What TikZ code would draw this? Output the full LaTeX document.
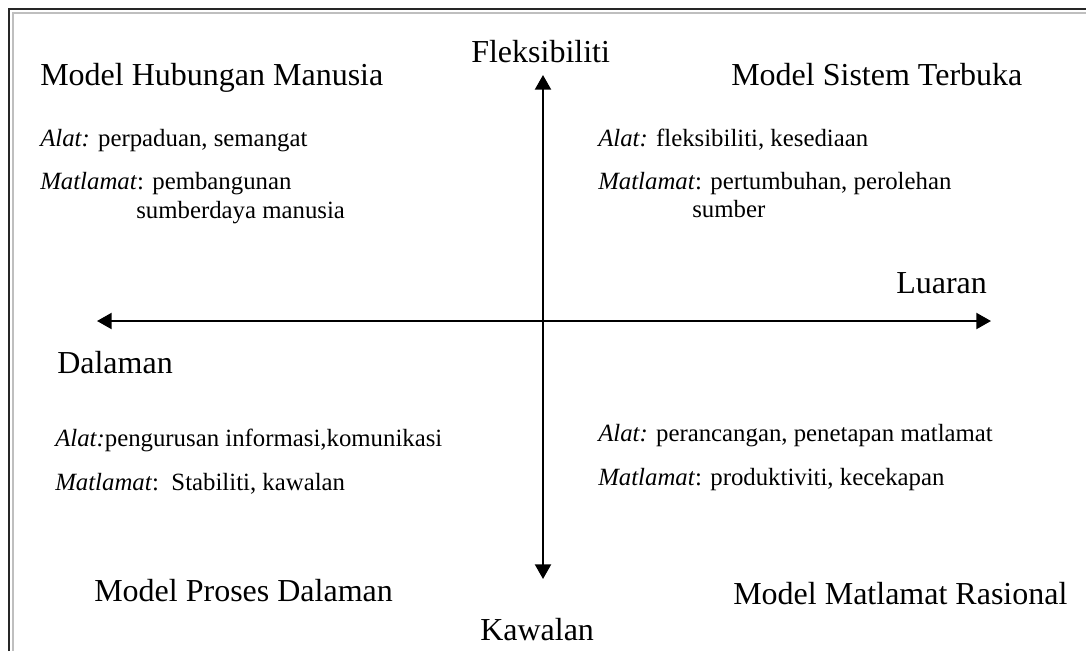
\documentclass[tikz,border=0pt]{standalone}
\usepackage{fontspec}
\setmainfont{Liberation Serif}
\usetikzlibrary{arrows.meta}
\begin{document}
\begin{tikzpicture}[x=0.75pt,y=-0.75pt,
  big/.style={anchor=base west,inner sep=0pt,font=\fontsize{24}{28}\selectfont},
  small/.style={anchor=base west,inner sep=0pt,font=\fontsize{18.6}{22}\selectfont},
  axis/.style={line width=1.6pt,-{Triangle[length=11pt,width=12pt]}}]
\useasboundingbox (0,0) rectangle (1086,651);
% frame, drawn on the top and left only
\draw[black!85,line width=1.5pt] (8.5,651) -- (8.5,8.5) -- (1086,8.5);
\draw[black!25,line width=1.5pt] (13,651) -- (13,13) -- (1086,13);
% axes
\coordinate (c) at (543,321);
\coordinate (top) at (543,75);
\coordinate (bot) at (543,579);
\coordinate (lft) at (97,321);
\coordinate (rgt) at (991,321);
\draw[axis] (c) -- (top);
\draw[axis] (c) -- (bot);
\draw[axis] (c) -- (lft);
\draw[axis] (c) -- (rgt);
% axis labels
\node[big] (fleks) at (471,62) {Fleksibiliti};
\node[big] (luaran) at (896,293) {Luaran};
\node[big] (dalaman) at (57,373) {Dalaman};
\node[big] (kawalan) at (480,640) {Kawalan};
% quadrant titles
\node[big] (mhm) at (40,85) {Model Hubungan Manusia};
\node[big] (mst) at (731,85) {Model Sistem Terbuka};
\node[big] (mpd) at (94,601) {Model Proses Dalaman};
\node[big] (mmr) at (733,604) {Model Matlamat Rasional};
% quadrant details
\node[small] (a1) at (40,146) {\textit{Alat:} perpaduan, semangat};
\node[small] (m1) at (40,189) {\textit{Matlamat}: pembangunan};
\node[small] (m1b) at (136,218) {sumberdaya manusia};
\node[small] (a2) at (598,146) {\textit{Alat:} fleksibiliti, kesediaan};
\node[small] (m2) at (598,189) {\textit{Matlamat}: pertumbuhan, perolehan};
\node[small] (m2b) at (692,217) {sumber};
\node[small] (a3) at (55,446) {\textit{Alat:}pengurusan informasi,komunikasi};
\node[small] (m3) at (55,490) {\textit{Matlamat}:\ \ Stabiliti, kawalan};
\node[small] (a4) at (598,441) {\textit{Alat:} perancangan, penetapan matlamat};
\node[small] (m4) at (598,485) {\textit{Matlamat}: produktiviti, kecekapan};
\end{tikzpicture}
\end{document}
